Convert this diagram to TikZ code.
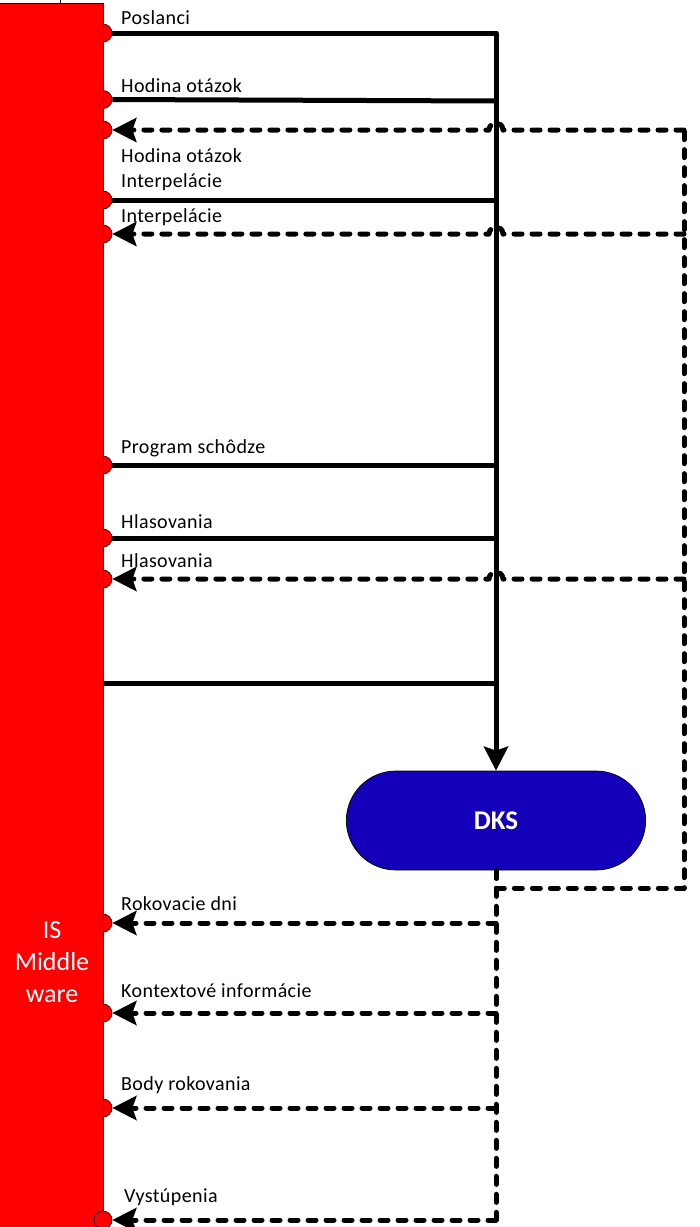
\documentclass[tikz,border=0pt]{standalone}
\usepackage{fontspec}
\setmainfont{Carlito}
\usetikzlibrary{arrows.meta,shapes.misc}
\definecolor{mwred}{RGB}{255,0,0}
\definecolor{dksblue}{RGB}{20,0,184}
\begin{document}
\begin{tikzpicture}[x=1pt,y=-1pt,
  lbl/.style={anchor=base west, inner sep=0pt, font=\fontsize{20}{22}\selectfont\addfontfeatures{LetterSpace=2}},
  solidln/.style={line width=5pt, line join=round},
  dashln/.style={line width=5pt, dash pattern=on 8pt off 10pt, line cap=round, line join=round},
  arrowend/.style={-{Stealth[length=24pt,width=24pt,inset=4pt]}},
  port/.style={circle, draw=black, line width=0.7pt, fill=mwred, minimum size=18pt, inner sep=0pt},
  mwbox/.style={rectangle, draw=black, line width=0.8pt, fill=mwred, minimum width=105pt, minimum height=1240pt, inner sep=0pt},
  dksbox/.style={rounded rectangle, draw=black, line width=0.7pt, fill=dksblue, minimum width=306pt, minimum height=99pt, text=white, font=\fontsize{27}{30}\selectfont\bfseries},
]
\useasboundingbox (0,0) rectangle (700,1227);

% ports (drawn behind the bar)
\node[port] (p1) at (103,33) {};
\node[port] (p2) at (103,99.5) {};
\node[port] (p3) at (103,130) {};
\node[port] (p4) at (103,200) {};
\node[port] (p5) at (103,234) {};
\node[port] (p6) at (103,465) {};
\node[port] (p7) at (103,538) {};
\node[port] (p8) at (103,579) {};
\node[port] (p10) at (103,923) {};
\node[port] (p11) at (103,1013) {};
\node[port] (p12) at (103,1108) {};

% middleware bar
\node[mwbox, anchor=north west] (mw) at (-2,3) {};
\node[port] (p13) at (103,1220) {};
\node[text=white, align=center, font=\fontsize{26}{32}\selectfont] (mwlabel) at (52,962) {IS\\Middle\\ware};
\draw[line width=0.8pt] (60,0) -- (60,3);

% DKS
\node[dksbox] (dks) at (496,820.5) {DKS};

% junction coordinates on the trunk
\coordinate (j1) at (496,33);
\coordinate (j2) at (496,101);
\coordinate (j4) at (496,200);
\coordinate (j6) at (496,465);
\coordinate (j7) at (496,538);
\coordinate (j9) at (496,683);
\coordinate (e9) at (103,683);

% solid inputs
\draw[solidln, arrowend] (p1.east) -- (j1) -- (dks.north);
\draw[solidln] (j2) -- (p2.east);
\draw[solidln] (j4) -- (p4.east);
\draw[solidln] (j6) -- (p6.east);
\draw[solidln] (j7) -- (p7.east);
\draw[solidln] (j9) -- (e9);

% dashed feedback loop
\coordinate (d0) at (496,888);
\coordinate (d1) at (684,888);
\coordinate (r1) at (684,130);
\coordinate (r2) at (684,234);
\coordinate (r3) at (684,579);
\draw[dashln] (dks.south) -- (d0) -- (d1) -- (r1);
\draw[dashln, arrowend] (r1) -- (503,130) arc[start angle=0, end angle=180, radius=7pt] -- (p3.east);
\draw[dashln, arrowend] (r2) -- (503,234) arc[start angle=0, end angle=180, radius=7pt] -- (p5.east);
\draw[dashln, arrowend] (r3) -- (503,579) arc[start angle=0, end angle=180, radius=7pt] -- (p8.east);

% dashed outputs
\coordinate (b1) at (496,923);
\coordinate (b2) at (496,1013);
\coordinate (b3) at (496,1108);
\coordinate (b4) at (496,1220);
\draw[dashln] (dks.south) -- (b4);
\draw[dashln, arrowend] (b1) -- (p10.east);
\draw[dashln, arrowend] (b2) -- (p11.east);
\draw[dashln, arrowend] (b3) -- (p12.east);
\draw[dashln, arrowend] (b4) -- (p13.east);

% labels
\node[lbl] (l1) at (121,24) {Poslanci};
\node[lbl] (l2) at (121,92) {Hodina otázok};
\node[lbl] (l3) at (121,162) {Hodina otázok};
\node[lbl] (l4) at (121,187) {Interpelácie};
\node[lbl] (l5) at (121,222) {Interpelácie};
\node[lbl] (l6) at (121,453) {Program schôdze};
\node[lbl] (l7) at (121,528) {Hlasovania};
\node[lbl] (l8) at (121,567) {Hlasovania};
\node[lbl] (l10) at (121,910) {Rokovacie dni};
\node[lbl] (l11) at (121,997) {Kontextové informácie};
\node[lbl] (l12) at (121,1090) {Body rokovania};
\node[lbl] (l13) at (124,1202) {Vystúpenia};
\end{tikzpicture}
\end{document}
